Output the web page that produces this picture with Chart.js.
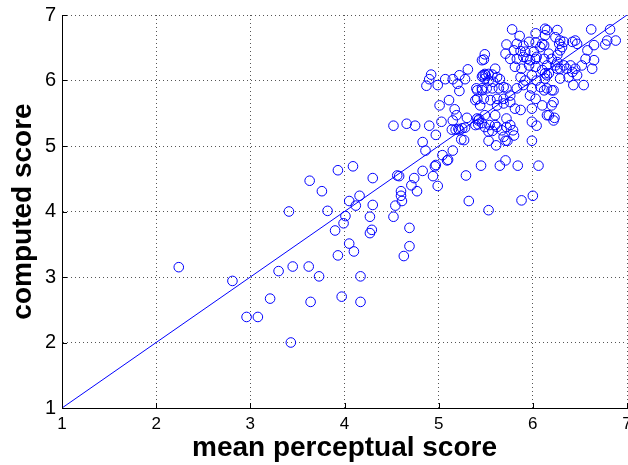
<!DOCTYPE html>
<html>
<head>
<meta charset="utf-8">
<script src="https://cdn.jsdelivr.net/npm/chart.js@4.4.1/dist/chart.umd.min.js"></script>
<style>
html,body{margin:0;padding:0;background:#fff;}
#wrap{width:628px;height:465px;position:relative;}
</style>
</head>
<body>
<div id="wrap"><canvas id="c" width="628" height="465"></canvas></div>
<script>
const xTitle = "mean perceptual score";
const yTitle = "computed score";
const xTicks = [1, 2, 3, 4, 5, 6, 7];
const yTicks = [1, 2, 3, 4, 5, 6, 7];
const lineX = [1, 7];
const lineY = [1, 7];

const meanScores = [
  2.24,2.81,2.96,3.08,3.21,3.30,3.41,3.45,3.43,3.62,
  3.63,3.64,3.73,3.76,3.93,4.09,4.30,4.16,4.05,4.12,
  3.82,4.30,4.01,4.27,3.99,3.90,4.29,4.27,4.05,4.10,
  3.93,4.17,3.97,4.17,4.56,4.58,4.74,4.71,4.77,4.60,
  4.60,4.61,4.54,4.52,4.69,4.69,4.63,4.83,4.94,4.99,
  4.96,4.97,5.04,5.09,5.10,5.15,4.86,4.83,4.97,5.29,
  5.45,5.65,5.71,5.84,6.06,5.32,5.53,5.88,6.00,5.99,
  5.53,5.61,5.71,5.73,5.27,5.24,5.14,5.18,5.21,5.22,
  5.03,5.42,5.46,5.54,5.57,5.60,5.67,5.76,5.79,6.04,
  5.99,6.22,4.52,4.66,4.75,4.90,5.01,5.11,5.17,5.19,
  5.15,5.30,5.25,5.28,5.42,5.43,5.39,5.44,5.46,5.41,
  4.87,4.90,4.92,4.99,5.07,5.15,5.22,5.20,5.22,5.28,
  5.31,5.46,5.47,5.50,
  5.48,5.60,5.49,5.53,5.46,5.57,5.62,5.65,5.49,5.53,
  5.58,5.40,5.46,5.51,5.57,5.64,5.69,5.72,5.41,5.48,
  5.55,5.62,5.69,5.76,5.62,5.69,5.76,5.81,5.87,5.49,
  5.41,5.60,5.72,5.39,5.49,5.62,5.72,5.53,5.69,5.80,
  5.83,5.90,5.97,6.04,6.12,6.20,6.26,5.81,5.88,5.96,
  6.03,6.10,6.17,6.26,5.87,5.92,5.99,6.04,6.13,5.83,
  5.90,5.99,6.08,6.15,6.22,5.97,6.03,6.10,6.20,5.99,6.15,
  6.62,6.82,6.88,6.79,6.77,6.65,6.58,6.45,6.42,6.47,
  6.29,6.33,6.28,6.31,6.29,6.15,6.26,6.13,6.24,6.10,6.12,6.17,6.26,
  6.56,6.65,6.52,6.45,6.42,6.63,6.33,6.36,6.40,6.29,
  6.15,6.24,6.13,6.47,6.38,6.29,6.15,6.43,6.54,6.20,
  6.12,6.22,6.17,6.23,
  5.49,5.78,5.86,6.03,6.13,5.72,5.83,5.90,5.96,6.03,
  5.71,5.80,5.87,5.92,6.01,6.08,5.76,5.94,6.03
];

const computedScores = [
  3.15,2.94,2.39,2.39,2.67,3.09,4.00,3.16,2.00,3.16,
  4.47,2.62,3.01,4.31,4.63,4.69,4.51,4.24,4.16,4.09,
  4.01,4.10,3.93,3.92,3.82,3.71,3.72,3.67,3.51,3.39,
  3.33,3.01,2.70,2.62,4.55,4.54,4.51,4.40,4.31,4.31,
  4.24,4.16,4.09,3.92,3.75,3.47,3.32,4.62,4.54,4.39,
  4.69,4.71,4.86,4.78,4.79,4.93,4.93,5.06,5.17,4.55,
  4.70,4.70,4.78,4.70,4.70,4.16,4.02,4.17,4.24,5.08,
  5.08,5.01,5.08,5.08,5.09,5.10,5.25,5.25,5.26,5.24,
  5.37,5.33,5.35,5.32,5.23,5.32,5.24,5.32,5.24,5.31,
  5.37,5.39,5.31,5.34,5.31,5.31,5.62,5.70,5.56,5.47,
  5.39,5.43,5.27,5.28,5.39,5.41,5.70,5.62,5.88,5.85,
  5.92,6.02,6.09,5.93,6.02,6.02,6.08,5.95,5.84,6.02,
  6.17,6.31,6.08,6.08,
  6.32,6.18,6.10,6.10,6.06,6.09,6.05,6.02,6.03,6.00,
  5.98,5.88,5.85,5.88,5.88,5.88,5.90,5.88,5.72,5.72,
  5.70,5.72,5.72,5.77,5.62,5.65,5.67,5.57,5.55,5.47,
  5.42,5.47,5.42,5.32,5.29,5.29,5.29,5.22,5.14,5.16,
  6.33,6.36,6.31,6.36,6.33,6.33,6.28,6.21,6.18,6.23,
  6.21,6.16,6.11,6.18,6.05,6.00,6.08,6.00,6.03,5.88,
  5.93,5.88,5.90,5.88,5.85,5.77,5.72,5.62,5.62,5.57,5.47,
  6.78,6.78,6.61,6.61,6.55,6.54,6.46,6.61,6.59,6.56,
  6.61,6.59,6.56,6.51,6.46,6.77,6.77,6.69,6.66,6.56,6.54,6.41,6.39,
  6.33,6.31,6.23,6.18,6.13,6.18,6.23,6.18,6.23,6.18,
  6.23,6.23,6.11,6.08,6.05,6.03,6.08,5.93,5.93,5.85,
  5.85,5.67,5.47,5.43,
  6.40,6.78,6.68,6.72,6.79,6.55,6.56,6.53,6.59,6.58,
  6.41,6.46,6.45,6.44,6.44,6.51,6.33,6.33,6.33
];

const scatterData = meanScores.map((x, i) => ({x: x, y: computedScores[i]}));
const lineData = lineX.map((x, i) => ({x: x, y: lineY[i]}));

const BLUE = '#0000ff';
const FONT = '"Liberation Sans", Arial, Helvetica, sans-serif';

// inward tick marks like the original figure
const inwardTicks = {
  id: 'inwardTicks',
  afterDraw(chart) {
    const ctx = chart.ctx;
    const xs = chart.scales.x, ys = chart.scales.y;
    const a = chart.chartArea;
    ctx.save();
    ctx.strokeStyle = '#000';
    ctx.lineWidth = 1;
    ctx.beginPath();
    xTicks.forEach(v => {
      const px = Math.round(xs.getPixelForValue(v)) + 0.5;
      ctx.moveTo(px, a.bottom);
      ctx.lineTo(px, a.bottom - 5);
    });
    yTicks.forEach(v => {
      const py = Math.round(ys.getPixelForValue(v)) + 0.5;
      ctx.moveTo(a.left, py);
      ctx.lineTo(a.left + 5, py);
    });
    ctx.stroke();
    ctx.restore();
  }
};

new Chart(document.getElementById('c'), {
  type: 'scatter',
  data: {
    datasets: [
      {
        type: 'scatter',
        data: scatterData,
        pointStyle: 'circle',
        pointRadius: 4.8,
        pointHoverRadius: 4.8,
        borderColor: BLUE,
        backgroundColor: 'rgba(0,0,0,0)',
        borderWidth: 1,
        clip: false,
        order: 2
      },
      {
        type: 'line',
        data: lineData,
        borderColor: BLUE,
        borderWidth: 1,
        pointRadius: 0,
        fill: false,
        order: 1
      }
    ]
  },
  options: {
    responsive: false,
    animation: false,
    events: [],
    layout: { autoPadding: false, padding: { top: 15, right: 1, left: 0, bottom: 0 } },
    plugins: { legend: { display: false }, tooltip: { enabled: false } },
    scales: {
      x: {
        type: 'linear',
        min: 1, max: 7,
        afterBuildTicks(s) { s.ticks = xTicks.map(v => ({value: v})); },
        afterFit(s) { s.height = 57; s.paddingLeft = 0; s.paddingRight = 0; },
        grid: { color: '#555', lineWidth: 1, drawTicks: false },
        border: { display: true, color: '#000', width: 1, dash: [1, 3] },
        ticks: { color: '#000', padding: 6, font: { family: FONT, size: 17 }, maxRotation: 0 },
        title: { display: true, text: xTitle, color: '#000',
                 font: { family: FONT, size: 28, weight: 'bold' }, padding: { top: 0, bottom: 0 } }
      },
      y: {
        type: 'linear',
        min: 1, max: 7,
        afterBuildTicks(s) { s.ticks = yTicks.map(v => ({value: v})); },
        afterFit(s) { s.width = 62; s.paddingTop = 0; s.paddingBottom = 0; },
        grid: { color: '#555', lineWidth: 1, drawTicks: false },
        border: { display: true, color: '#000', width: 1, dash: [1, 3] },
        ticks: { color: '#000', padding: 6, font: { family: FONT, size: 20 } },
        title: { display: true, text: yTitle, color: '#000',
                 font: { family: FONT, size: 28, weight: 'bold' }, padding: { top: 6, bottom: 0 } }
      }
    }
  },
  plugins: [inwardTicks]
});
</script>
</body>
</html>
